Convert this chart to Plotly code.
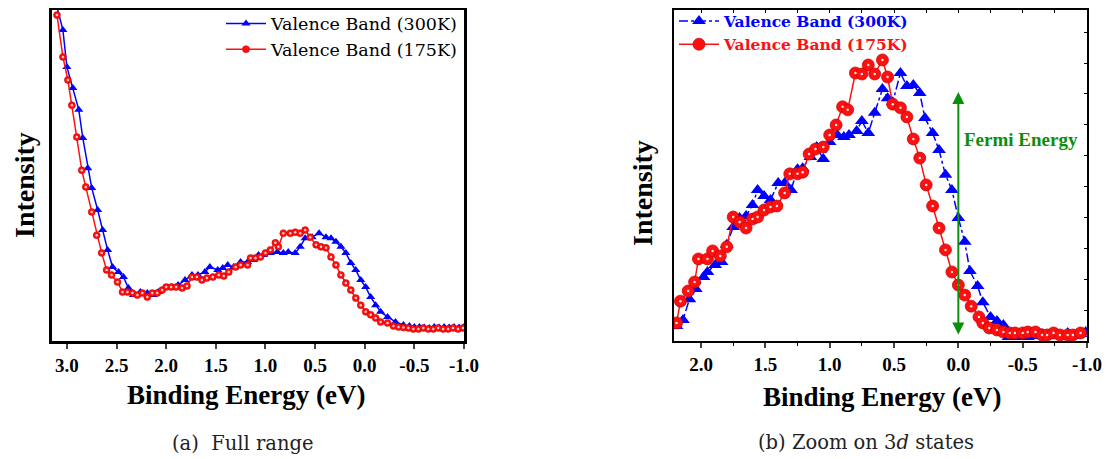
import plotly.graph_objects as go

# ---------------- data ----------------
# Panel (a): full range
a_be_300 = [3.10, 3.04, 3.00, 2.94, 2.88, 2.84, 2.79, 2.75, 2.69, 2.64, 2.59, 2.54, 2.48, 2.43, 2.38, 2.33,
            2.26, 2.19, 2.13, 2.08, 2.01, 1.94, 1.88, 1.81, 1.74, 1.68, 1.61, 1.56, 1.48, 1.43, 1.38, 1.32,
            1.25, 1.18, 1.12, 1.07, 1.02, 0.95, 0.88, 0.82, 0.77, 0.70, 0.65, 0.60, 0.53, 0.46, 0.39, 0.34,
            0.29, 0.24, 0.19, 0.14, 0.09, 0.04, -0.01, -0.06, -0.11, -0.16, -0.23, -0.31, -0.39, -0.45,
            -0.50, -0.55, -0.60, -0.65, -0.70, -0.75, -0.80, -0.85, -0.90, -0.95, -1.00]
a_int_300 = [99.7, 92.8, 81.8, 75.5, 69.0, 60.6, 51.6, 45.7, 39.1, 33.1, 27.2, 22.1, 20.6, 19.1, 15.8, 13.7,
             14.6, 14.3, 13.7, 14.6, 15.8, 16.1, 16.7, 18.2, 19.7, 19.7, 20.6, 22.1, 21.2, 21.8, 22.7, 22.1,
             23.6, 23.6, 24.2, 25.7, 25.7, 26.3, 26.6, 26.3, 26.6, 26.3, 28.1, 30.7, 31.0, 32.2, 31.0, 30.7,
             29.6, 28.1, 26.3, 23.3, 21.2, 18.2, 16.1, 13.1, 10.7, 8.7, 7.2, 5.7, 4.8, 4.5,
             4.2, 4.2, 4.0, 3.9, 4.2, 4.0, 4.2, 4.0, 4.2, 4.0, 4.2]

a_be_175 = [3.10, 3.04, 2.99, 2.95, 2.90, 2.85, 2.81, 2.75, 2.70, 2.65, 2.60, 2.55, 2.49, 2.44, 2.39, 2.34,
            2.29, 2.24, 2.19, 2.14, 2.09, 2.04, 2.00, 1.95, 1.90, 1.84, 1.79, 1.74, 1.69, 1.64, 1.59, 1.53,
            1.47, 1.42, 1.37, 1.30, 1.25, 1.18, 1.15, 1.10, 1.05, 1.00, 0.95, 0.90, 0.87, 0.82, 0.75, 0.70,
            0.65, 0.60, 0.55, 0.49, 0.44, 0.39, 0.34, 0.29, 0.24, 0.19, 0.14, 0.09, 0.04, -0.01, -0.06,
            -0.11, -0.16, -0.23, -0.29, -0.34, -0.39, -0.44, -0.49, -0.54, -0.59, -0.64, -0.69, -0.74,
            -0.79, -0.84, -0.89, -0.94, -0.99]
a_int_175 = [97.3, 84.8, 77.9, 70.4, 60.9, 51.0, 46.0, 38.5, 31.6, 26.3, 21.2, 19.7, 17.6, 14.6, 14.6, 14.3,
             13.7, 14.3, 13.1, 14.3, 14.3, 15.2, 16.1, 16.1, 16.1, 15.8, 16.4, 19.1, 19.1, 18.2, 18.8, 19.1,
             19.7, 19.4, 20.6, 22.1, 22.7, 22.7, 24.8, 24.8, 25.1, 26.3, 27.2, 29.3, 28.1, 32.2, 32.2, 32.5,
             32.2, 33.1, 31.0, 28.7, 28.1, 27.8, 25.1, 22.7, 19.7, 17.3, 15.2, 12.8, 10.7, 8.7, 7.8,
             6.9, 5.7, 5.4, 4.5, 4.2, 4.0, 3.9, 3.6, 3.6, 3.9, 3.6, 3.6, 3.9,
             3.6, 3.6, 3.9, 3.6, 3.9]

# Panel (b): zoom on 3d states
b_be_300 = [2.19, 2.14, 2.09, 2.04, 1.98, 1.95, 1.89, 1.84, 1.80, 1.75, 1.70, 1.65, 1.60, 1.56, 1.51, 1.46,
            1.40, 1.35, 1.30, 1.25, 1.21, 1.15, 1.10, 1.05, 1.00, 0.94, 0.89, 0.85, 0.79, 0.75, 0.70, 0.65,
            0.59, 0.55, 0.51, 0.45, 0.40, 0.35, 0.30, 0.26, 0.20, 0.15, 0.10, 0.05, 0.00, -0.05, -0.09,
            -0.15, -0.19, -0.25, -0.30, -0.35, -0.39, -0.44, -0.50, -0.54, -0.60, -0.65, -0.69, -0.74,
            -0.79, -0.85, -0.89, -0.95, -0.99]
b_int_300 = [4.5, 6.3, 12.5, 15.5, 19.1, 20.6, 22.7, 23.6, 28.7, 34.0, 36.7, 37.3, 40.6, 45.1, 43.3, 42.1,
             47.2, 47.2, 45.1, 51.3, 51.6, 54.9, 57.9, 54.3, 59.4, 61.5, 60.9, 61.5, 62.7, 65.7, 62.1, 68.1,
             75.2, 72.5, 71.3, 80.0, 76.1, 76.4, 74.0, 66.6, 62.1, 57.0, 49.6, 45.1, 36.7, 29.6, 20.9,
             16.4, 11.6, 7.2, 6.0, 4.8, 1.2, 1.2, 1.5, 1.2, 1.5, 2.1, 1.5, 2.4,
             1.8, 2.4, 1.5, 2.1, 2.7]

b_be_175 = [2.19, 2.16, 2.10, 2.05, 2.02, 1.95, 1.91, 1.85, 1.80, 1.75, 1.70, 1.65, 1.60, 1.56, 1.51, 1.46,
            1.41, 1.35, 1.31, 1.25, 1.21, 1.16, 1.11, 1.05, 1.00, 0.95, 0.90, 0.86, 0.80, 0.75, 0.70, 0.65,
            0.59, 0.55, 0.51, 0.45, 0.40, 0.35, 0.30, 0.25, 0.20, 0.15, 0.10, 0.05, 0.00, -0.05, -0.10,
            -0.16, -0.19, -0.24, -0.30, -0.35, -0.40, -0.44, -0.50, -0.54, -0.60, -0.65, -0.69, -0.74,
            -0.79, -0.85, -0.89, -0.95]
b_int_175 = [5.4, 11.9, 14.9, 17.6, 24.5, 24.5, 26.9, 25.4, 28.1, 37.0, 35.5, 33.7, 36.4, 37.0, 39.1, 40.0,
             40.3, 44.2, 49.9, 49.9, 50.4, 55.8, 57.3, 57.9, 61.5, 64.5, 69.9, 69.0, 80.0, 79.7, 82.4, 79.7,
             83.9, 78.8, 70.7, 69.6, 66.9, 60.3, 54.6, 46.6, 40.3, 33.7, 27.2, 20.6, 16.7, 13.7, 10.4,
             7.2, 5.4, 3.9, 3.3, 2.7, 2.4, 2.4, 2.4, 2.7, 2.7, 1.8, 1.8, 2.4,
             1.8, 1.8, 1.8, 2.4]

series_names = ["Valence Band (300K)", "Valence Band (175K)"]
a_tickvals = [3.0, 2.5, 2.0, 1.5, 1.0, 0.5, 0.0, -0.5, -1.0]
a_ticktext = ["3.0", "2.5", "2.0", "1.5", "1.0", "0.5", "0.0", "-0.5", "-1.0"]
b_tickvals = [2.0, 1.5, 1.0, 0.5, 0.0, -0.5, -1.0]
b_ticktext = ["2.0", "1.5", "1.0", "0.5", "0.0", "-0.5", "-1.0"]
fermi_energy = 0.0
fermi_arrow_top = 74.3
fermi_arrow_bottom = 1.5

# ---------------- styles ----------------
BLUE = "#0000ff"
RED = "#ff1010"
GREEN = "#0a8f0a"
TIMES = "Liberation Serif"
WIDE_SERIF = "DejaVu Serif"
# the page body has an 8px margin: the figure is sized/offset so it fills the 1112x459 window
OFF = 8
W, H = 1112 - OFF, 459 - OFF
PLOT_TOP, PLOT_BOTTOM = 9.5, 341
Y_MAX = 100 * (PLOT_BOTTOM - PLOT_TOP) / 335.0


def px_x(p):
    return (p - OFF) / W


def px_y(p):
    return 1 - (p - OFF) / H


fig = go.Figure()

# panel (a)
fig.add_trace(go.Scatter(x=a_be_300, y=a_int_300, name=series_names[0], mode="lines+markers",
                         line=dict(color=BLUE, width=1.5),
                         marker=dict(symbol="triangle-up", size=8, color=BLUE),
                         xaxis="x", yaxis="y", legend="legend"))
fig.add_trace(go.Scatter(x=a_be_175, y=a_int_175, name=series_names[1], mode="lines+markers",
                         line=dict(color=RED, width=1.5),
                         marker=dict(symbol="circle", size=7, color=RED,
                                     line=dict(color="#c00000", width=0.5)),
                         xaxis="x", yaxis="y", legend="legend"))
fig.add_trace(go.Scatter(x=a_be_175, y=a_int_175, mode="markers", showlegend=False, hoverinfo="skip",
                         marker=dict(symbol="circle", size=2.5, color="#ffd0d0"),
                         xaxis="x", yaxis="y"))

# panel (b)
fig.add_trace(go.Scatter(x=b_be_300, y=b_int_300,
                         name="<b><span style='color:%s'>%s</span></b>" % (BLUE, series_names[0]),
                         mode="lines+markers",
                         line=dict(color=BLUE, width=1.5, dash="dashdot"),
                         marker=dict(symbol="triangle-up", size=12, color=BLUE),
                         xaxis="x2", yaxis="y2", legend="legend2"))
fig.add_trace(go.Scatter(x=b_be_175, y=b_int_175,
                         name="<b><span style='color:%s'>%s</span></b>" % (RED, series_names[1]),
                         mode="lines+markers",
                         line=dict(color=RED, width=1.5),
                         marker=dict(symbol="circle", size=12, color=RED,
                                     line=dict(color="#c00000", width=0.7)),
                         xaxis="x2", yaxis="y2", legend="legend2"))
fig.add_trace(go.Scatter(x=b_be_175, y=b_int_175, mode="markers", showlegend=False, hoverinfo="skip",
                         marker=dict(symbol="circle", size=2.5, color="#ffe4e4"),
                         xaxis="x2", yaxis="y2"))
# invisible helper for the mirrored tick axes
fig.add_trace(go.Scatter(x=[b_be_175[0]], y=[b_int_175[0]], mode="markers", showlegend=False,
                         hoverinfo="skip", marker=dict(opacity=0), xaxis="x3", yaxis="y3"))

y_dom = [px_y(PLOT_BOTTOM), px_y(PLOT_TOP)]
tickfont = dict(family=TIMES, size=19, color="black", weight="bold")

fig.update_layout(
    width=W, height=H,
    margin=dict(l=0, r=0, t=0, b=0, autoexpand=False),
    paper_bgcolor="white", plot_bgcolor="white",
    xaxis=dict(domain=[px_x(52), px_x(464)], range=[3.15, -1.0], anchor="y", automargin=False,
               tickvals=a_tickvals, ticktext=a_ticktext, ticks="outside", ticklen=5, tickwidth=2,
               showline=True, linewidth=3, linecolor="black", mirror=True, showgrid=False,
               zeroline=False, tickfont=tickfont),
    yaxis=dict(domain=y_dom, range=[0, Y_MAX], anchor="x", showticklabels=False, ticks="",
               automargin=False,
               showline=True, linewidth=3, linecolor="black", mirror=True, showgrid=False,
               zeroline=False),
    xaxis2=dict(domain=[px_x(674), px_x(1087)], range=[2.21, -1.0], anchor="y2", automargin=False,
                tickvals=b_tickvals, ticktext=b_ticktext, ticks="outside", ticklen=5, tickwidth=1.5,
                minor=dict(dtick=0.25, tick0=0, ticks="outside", ticklen=3, tickwidth=1, tickcolor="black"),
                showline=True, linewidth=2, linecolor="black", mirror=True, showgrid=False,
                zeroline=False, tickfont=tickfont),
    yaxis2=dict(domain=y_dom, range=[0, Y_MAX], anchor="x2", showticklabels=False, ticks="",
                automargin=False,
                showline=True, linewidth=2, linecolor="black", mirror=True, showgrid=False,
                zeroline=False),
    xaxis3=dict(overlaying="x2", matches="x2", anchor="y2", side="top", range=[2.21, -1.0],
                automargin=False,
                tick0=0, dtick=0.25, ticks="inside", ticklen=3, tickwidth=1, tickcolor="black",
                showticklabels=False, showgrid=False, zeroline=False, showline=False),
    yaxis3=dict(overlaying="y2", anchor="x2", side="right", range=[0, Y_MAX], automargin=False,
                tick0=0, dtick=9.22, ticks="inside", ticklen=3, tickwidth=1, tickcolor="black",
                showticklabels=False, showgrid=False, zeroline=False, showline=False),
    legend=dict(x=px_x(463), y=px_y(5.5), xanchor="right", yanchor="top",
                bgcolor="rgba(0,0,0,0)", font=dict(family=WIDE_SERIF, size=17.5, color="black"),
                itemwidth=40, tracegroupgap=0),
    legend2=dict(x=px_x(674), y=px_y(4.5), xanchor="left", yanchor="top",
                 bgcolor="rgba(0,0,0,0)", font=dict(family=WIDE_SERIF, size=15.5, color="black"),
                 itemwidth=40, tracegroupgap=0),
    showlegend=True,
)

annotations = [
    dict(text="<b>Binding Energy (eV)</b>", x=px_x(246), y=px_y(395), xref="paper", yref="paper",
         xanchor="center", yanchor="middle",
         showarrow=False, font=dict(family=TIMES, size=27, color="black")),
    dict(text="<b>Binding Energy (eV)</b>", x=px_x(882), y=px_y(397), xref="paper", yref="paper",
         xanchor="center", yanchor="middle",
         showarrow=False, font=dict(family=TIMES, size=27, color="black")),
    dict(text="<b>Intensity</b>", x=px_x(24), y=px_y(185), xref="paper", yref="paper", textangle=-90,
         xanchor="center", yanchor="middle",
         showarrow=False, font=dict(family=TIMES, size=28, color="black")),
    dict(text="<b>Intensity</b>", x=px_x(643), y=px_y(193), xref="paper", yref="paper", textangle=-90,
         xanchor="center", yanchor="middle",
         showarrow=False, font=dict(family=TIMES, size=28, color="black")),
    dict(text="(a)  Full range", x=px_x(243), y=px_y(443), xref="paper", yref="paper",
         xanchor="center", yanchor="middle",
         showarrow=False, font=dict(family=WIDE_SERIF, size=19.5, color="#222")),
    dict(text="(b) Zoom on 3<i>d</i> states", x=px_x(866), y=px_y(442), xref="paper", yref="paper",
         xanchor="center", yanchor="middle",
         showarrow=False, font=dict(family=WIDE_SERIF, size=19.5, color="#222")),
    dict(text="<b>Fermi Energy</b>", x=-0.03, y=60.3, xref="x2", yref="y2", xanchor="left",
         yanchor="middle",
         showarrow=False, font=dict(family=TIMES, size=19, color=GREEN)),
    dict(x=fermi_energy, y=fermi_arrow_top, ax=fermi_energy, ay=fermi_arrow_bottom,
         xref="x2", yref="y2", axref="x2", ayref="y2", text="", showarrow=True,
         arrowhead=2, arrowside="end+start", arrowsize=1.2, arrowwidth=2, arrowcolor=GREEN),
]
fig.update_layout(annotations=annotations)

fig.write_html("out.html")
